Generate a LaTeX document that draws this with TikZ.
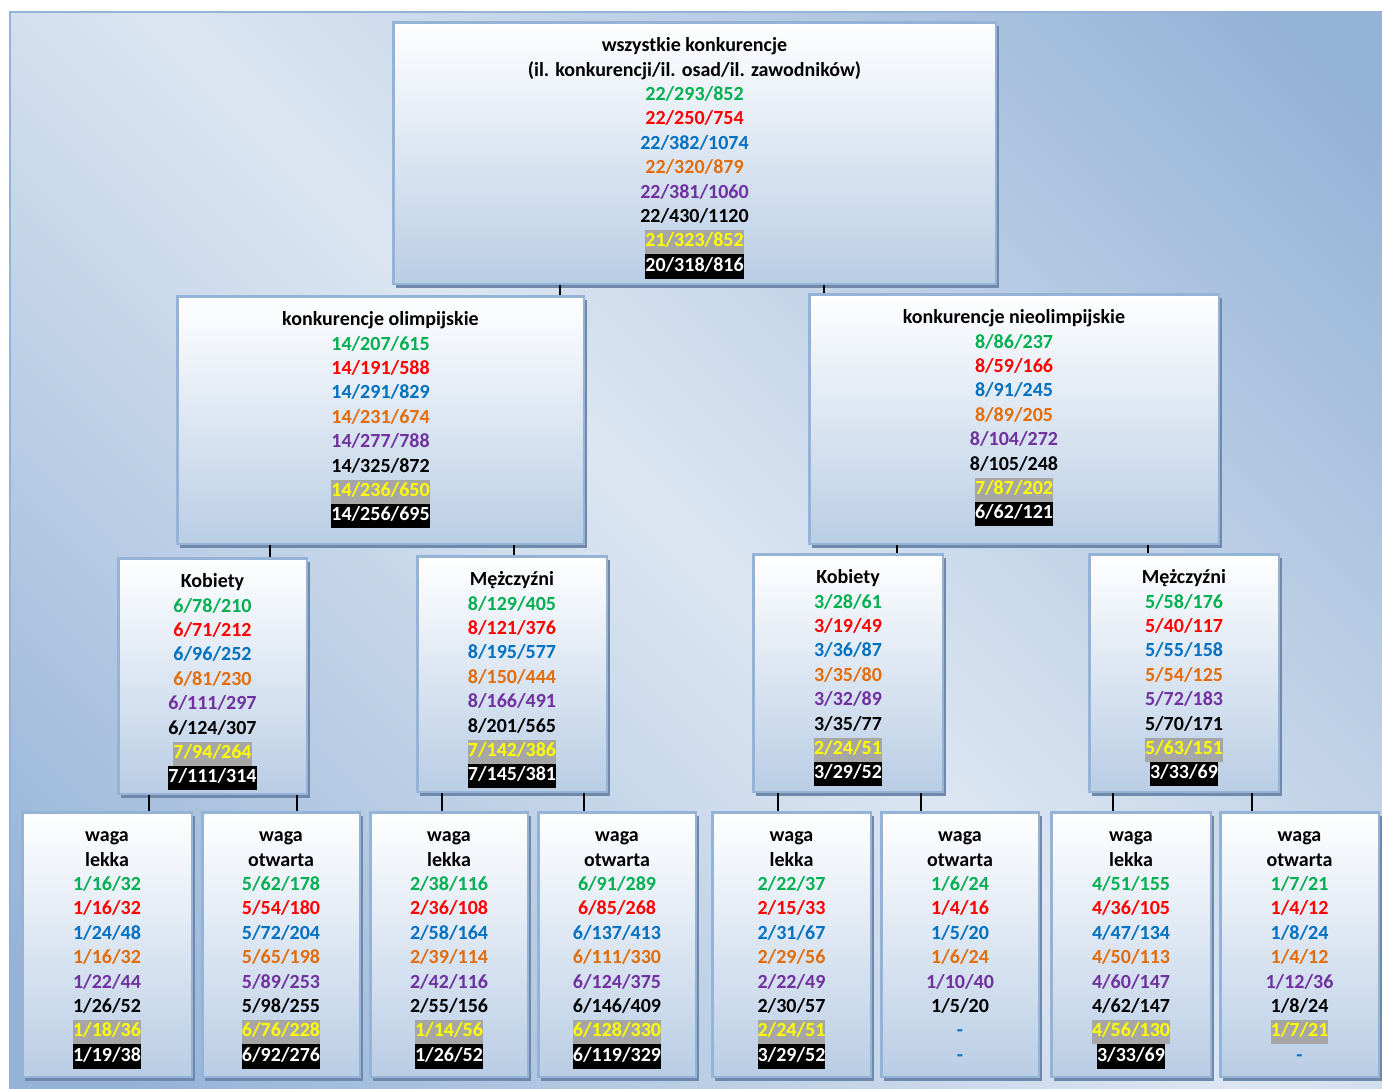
\documentclass[tikz,border=0pt]{standalone}
\usepackage{fontspec}
\setmainfont{Carlito}
\usetikzlibrary{shadows}
\definecolor{cgreen}{HTML}{00B050}
\definecolor{cred}{HTML}{FF0000}
\definecolor{cblue}{HTML}{0070C0}
\definecolor{corange}{HTML}{E36C0A}
\definecolor{cpurple}{HTML}{7030A0}
\definecolor{cyellow}{HTML}{FFFF00}
\definecolor{hlgrey}{HTML}{A6A6A6}
\definecolor{bgblue}{HTML}{95B3D7}
\definecolor{bglight}{HTML}{DCE6F2}
\definecolor{boxborder}{HTML}{95B3D7}
\definecolor{boxbot}{HTML}{B9CDE5}
\definecolor{shcol}{HTML}{7088AA}
\pgfdeclareverticalshading{bgsh}{100bp}{color(0bp)=(bgblue); color(18bp)=(bgblue); color(50bp)=(bglight); color(82bp)=(bgblue); color(100bp)=(bgblue)}
\newcommand\xgr[1]{\textcolor{cgreen}{\strut#1}}
\newcommand\xrd[1]{\textcolor{cred}{\strut#1}}
\newcommand\xbl[1]{\textcolor{cblue}{\strut#1}}
\newcommand\xog[1]{\textcolor{corange}{\strut#1}}
\newcommand\xpu[1]{\textcolor{cpurple}{\strut#1}}
\newcommand\xbk[1]{\strut#1}
\newcommand\xye[1]{{\setlength\fboxsep{0pt}\colorbox{hlgrey}{\strut\textcolor{cyellow}{#1}}}}
\newcommand\xwh[1]{{\setlength\fboxsep{0pt}\colorbox{black}{\strut\textcolor{white}{#1}}}}
\tikzset{
  orgbox/.style={draw=boxborder, line width=2.5pt, top color=white, bottom color=boxbot,
    inner sep=0pt, drop shadow={shadow xshift=3pt, shadow yshift=-4pt, fill=shcol, opacity=1}},
  orgtxt/.style={anchor=north, align=center, inner sep=0pt,
    font=\bfseries\fontsize{20}{24.4}\selectfont},
  tickline/.style={draw=black, line width=1.5pt},
  bgpanel/.style={draw=bgblue, line width=2pt, shading=bgsh, shading angle=-45}
}
\newcommand\mkbox[6]{%
  \node[orgbox, minimum width={(#4-#2-2.5)*1pt}, minimum height={(#5-#3-2.5)*1pt}] (#1) at ({(#2+#4)/2},{(#3+#5)/2}) {};
  \node[orgtxt] (#1-t) at ([yshift=-13.5pt]#1.north) {#6};
}
\newcommand\mktick[3]{%
  \coordinate (#1-#2-x) at (#3,0);
  \draw[tickline] (#1.south -| #1-#2-x) -- (#2.north -| #1-#2-x);
}
\begin{document}
\begin{tikzpicture}[x=1pt,y=-1pt]
\useasboundingbox (0,0) rectangle (1382,1088);
\path[bgpanel] (10,12) rectangle (1386,1092);
% level 1
\mkbox{t}{392}{21}{997}{285}{\xbk{wszystkie konkurencje}\\\xbk{(il. konkurencji/il. osad/il. zawodników)}\\\xgr{22/293/852}\\\xrd{22/250/754}\\\xbl{22/382/1074}\\\xog{22/320/879}\\\xpu{22/381/1060}\\\xbk{22/430/1120}\\\xye{21/323/852}\\\xwh{20/318/816}}
% level 2
\mkbox{o}{176}{295}{585}{545}{\xbk{konkurencje olimpijskie}\\\xgr{14/207/615}\\\xrd{14/191/588}\\\xbl{14/291/829}\\\xog{14/231/674}\\\xpu{14/277/788}\\\xbk{14/325/872}\\\xye{14/236/650}\\\xwh{14/256/695}}
\mkbox{n}{808}{293}{1220}{545}{\xbk{konkurencje nieolimpijskie}\\\xgr{8/86/237}\\\xrd{8/59/166}\\\xbl{8/91/245}\\\xog{8/89/205}\\\xpu{8/104/272}\\\xbk{8/105/248}\\\xye{7/87/202}\\\xwh{6/62/121}}
% level 3
\mkbox{ko}{117}{557}{308}{795}{\xbk{Kobiety}\\\xgr{6/78/210}\\\xrd{6/71/212}\\\xbl{6/96/252}\\\xog{6/81/230}\\\xpu{6/111/297}\\\xbk{6/124/307}\\\xye{7/94/264}\\\xwh{7/111/314}}
\mkbox{mo}{416}{555}{608}{793}{\xbk{Mężczyźni}\\\xgr{8/129/405}\\\xrd{8/121/376}\\\xbl{8/195/577}\\\xog{8/150/444}\\\xpu{8/166/491}\\\xbk{8/201/565}\\\xye{7/142/386}\\\xwh{7/145/381}}
\mkbox{kn}{752}{553}{944}{793}{\xbk{Kobiety}\\\xgr{3/28/61}\\\xrd{3/19/49}\\\xbl{3/36/87}\\\xog{3/35/80}\\\xpu{3/32/89}\\\xbk{3/35/77}\\\xye{2/24/51}\\\xwh{3/29/52}}
\mkbox{mn}{1088}{553}{1280}{793}{\xbk{Mężczyźni}\\\xgr{5/58/176}\\\xrd{5/40/117}\\\xbl{5/55/158}\\\xog{5/54/125}\\\xpu{5/72/183}\\\xbk{5/70/171}\\\xye{5/63/151}\\\xwh{3/33/69}}
% level 4
\mkbox{b1}{21}{811}{193}{1078}{\xbk{waga}\\\xbk{lekka}\\\xgr{1/16/32}\\\xrd{1/16/32}\\\xbl{1/24/48}\\\xog{1/16/32}\\\xpu{1/22/44}\\\xbk{1/26/52}\\\xye{1/18/36}\\\xwh{1/19/38}}
\mkbox{b2}{201}{811}{361}{1078}{\xbk{waga}\\\xbk{otwarta}\\\xgr{5/62/178}\\\xrd{5/54/180}\\\xbl{5/72/204}\\\xog{5/65/198}\\\xpu{5/89/253}\\\xbk{5/98/255}\\\xye{6/76/228}\\\xwh{6/92/276}}
\mkbox{b3}{369}{811}{529}{1078}{\xbk{waga}\\\xbk{lekka}\\\xgr{2/38/116}\\\xrd{2/36/108}\\\xbl{2/58/164}\\\xog{2/39/114}\\\xpu{2/42/116}\\\xbk{2/55/156}\\\xye{1/14/56}\\\xwh{1/26/52}}
\mkbox{b4}{537}{811}{697}{1078}{\xbk{waga}\\\xbk{otwarta}\\\xgr{6/91/289}\\\xrd{6/85/268}\\\xbl{6/137/413}\\\xog{6/111/330}\\\xpu{6/124/375}\\\xbk{6/146/409}\\\xye{6/128/330}\\\xwh{6/119/329}}
\mkbox{b5}{711}{811}{872}{1078}{\xbk{waga}\\\xbk{lekka}\\\xgr{2/22/37}\\\xrd{2/15/33}\\\xbl{2/31/67}\\\xog{2/29/56}\\\xpu{2/22/49}\\\xbk{2/30/57}\\\xye{2/24/51}\\\xwh{3/29/52}}
\mkbox{b6}{880}{811}{1040}{1078}{\xbk{waga}\\\xbk{otwarta}\\\xgr{1/6/24}\\\xrd{1/4/16}\\\xbl{1/5/20}\\\xog{1/6/24}\\\xpu{1/10/40}\\\xbk{1/5/20}\\\xbl{-}\\\xbl{-}}
\mkbox{b7}{1050}{811}{1212}{1078}{\xbk{waga}\\\xbk{lekka}\\\xgr{4/51/155}\\\xrd{4/36/105}\\\xbl{4/47/134}\\\xog{4/50/113}\\\xpu{4/60/147}\\\xbk{4/62/147}\\\xye{4/56/130}\\\xwh{3/33/69}}
\mkbox{b8}{1219}{811}{1380}{1078}{\xbk{waga}\\\xbk{otwarta}\\\xgr{1/7/21}\\\xrd{1/4/12}\\\xbl{1/8/24}\\\xog{1/4/12}\\\xpu{1/12/36}\\\xbk{1/8/24}\\\xye{1/7/21}\\\xbl{-}}
% connectors
\mktick{t}{o}{560}
\mktick{t}{n}{824}
\mktick{o}{ko}{270}
\mktick{o}{mo}{514}
\mktick{n}{kn}{897}
\mktick{n}{mn}{1148}
\mktick{ko}{b1}{149}
\mktick{ko}{b2}{297}
\mktick{mo}{b3}{442}
\mktick{mo}{b4}{584}
\mktick{kn}{b5}{778}
\mktick{kn}{b6}{921}
\mktick{mn}{b7}{1113}
\mktick{mn}{b8}{1252}
\end{tikzpicture}
\end{document}
